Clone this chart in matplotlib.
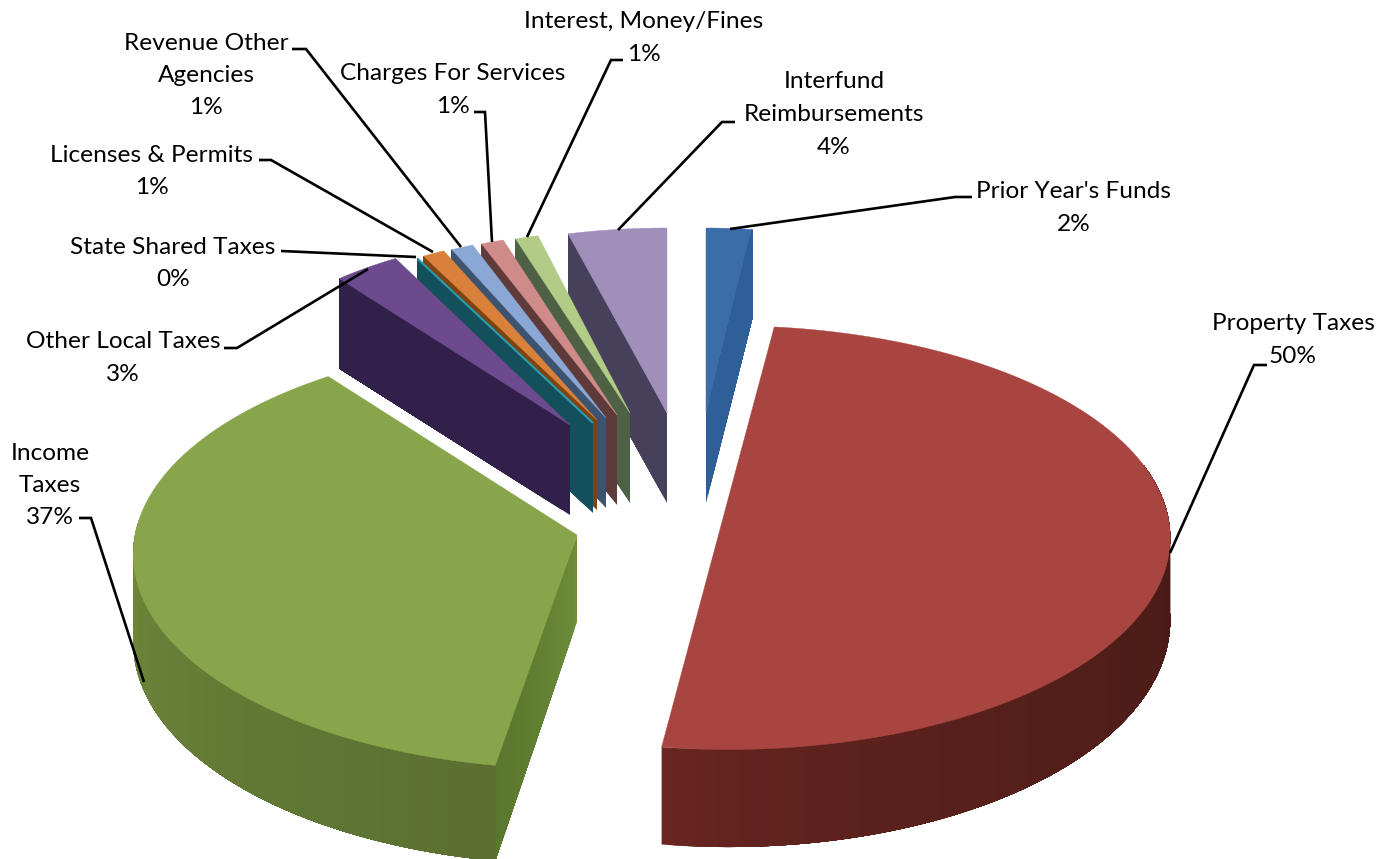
import numpy as np
import matplotlib
matplotlib.use("Agg")
import matplotlib.pyplot as plt
from matplotlib.colors import to_rgb

categories = ["Prior Year's Funds", "Property Taxes", "Income\nTaxes", "Other Local Taxes",
              "State Shared Taxes", "Licenses & Permits", "Revenue Other\nAgencies",
              "Charges For Services", "Interest, Money/Fines", "Interfund\nReimbursements"]
percents = [2, 50, 37, 3, 0, 1, 1, 1, 1, 4]

# apex of each slice in pixels, then screen radii, perspective, angle shift
apex = [(706, 413), (728, 499.5), (577, 535), (570, 425), (593, 423),
        (597, 420), (606, 418), (617, 415), (630, 413), (667, 413)]
radius_x = [368, 435, 442, 362, 365, 360, 362, 368, 370, 398]
radius_y = [185, 205, 213, 190, 188, 187, 186, 184, 183, 185]
persp = [0, 0.18, 0.09, 0, 0, 0, 0, 0, 0, 0]
shift = [0, 0, 2.5, 0, 0, 0, 0, 0, 0, 0]
depth = [90, 80, 87, 90, 90, 90, 90, 90, 90, 90]

top_colors = ["#3b6ea8", "#a94541", "#88a54c", "#6d4a8e", "#2a9bb0",
              "#d9813a", "#8aa7d5", "#cf8b88", "#b2cb86", "#a08fbb"]
wall_colors = ["#2f5f98", "#6a2622", "#76913f", "#31204a", "#14505c",
               "#7d4310", "#3d5470", "#5e3a3a", "#4f6145", "#47405a"]
wall_colors_far = ["#2f5f98", "#451a15", "#5b7031", "#31204a", "#14505c",
                   "#7d4310", "#3d5470", "#5e3a3a", "#4f6145", "#47405a"]

# label centre and first line height, then the leader polyline
label_pos = [(1074, 192), (1293, 324), (50, 453), (123, 342), (173, 247),
             (152, 155), (206, 43), (453, 74), (644, 22), (834, 82)]
leaders = [[(972, 197), (955, 197), (730, 229)],
           [(1267, 365), (1254, 365), (1170, 553)],
           [(79, 518), (91, 518), (144, 682)],
           [(224, 348), (237, 348), (368, 269)],
           [(281, 251), (416, 257)],
           [(259, 160), (271, 160), (433, 252)],
           [(292, 49), (306, 49), (461, 247)],
           [(474, 112), (485, 112), (492, 242)],
           [(623, 60), (611, 60), (527, 237)],
           [(735, 122), (722, 122), (618, 230)]]

fig = plt.figure(figsize=(13.87, 8.59), dpi=100)
ax = fig.add_axes([0, 0, 1, 1])
ax.set_xlim(0, 1387)
ax.set_ylim(859, 0)
ax.axis("off")


def project(i, theta):
    t = np.radians(np.asarray(theta, dtype=float) + shift[i])
    w = 1 + persp[i] * np.cos(t)
    x = apex[i][0] + radius_x[i] * np.sin(t) / w
    y = apex[i][1] - radius_y[i] * np.cos(t) / w
    return x, y, depth[i] / w


def mix(a, b, f):
    a, b = np.array(to_rgb(a)), np.array(to_rgb(b))
    return tuple(a + (b - a) * f)


def paint_strips(xt, yt, yb, c0, c1):
    # each strip runs on to the far end and the next paints over it, so no seams show
    n = len(xt)
    for j in range(n - 1):
        xs = np.concatenate([xt[j:], xb_rev(xt[j:])])
        ys = np.concatenate([yt[j:], yb[j:][::-1]])
        ax.fill(xs, ys, facecolor=mix(c0, c1, (j / (n - 2)) ** 0.6), edgecolor="none")


def xb_rev(x):
    return x[::-1]


def draw_arc_wall(i, t0, t1):
    th = np.linspace(t0, t1, 90)
    x, y, h = project(i, th)
    paint_strips(x, y, y + h, wall_colors[i], wall_colors_far[i])


def draw_cut_wall(i, theta, c0, c1):
    x, y, h = project(i, theta)
    f = np.linspace(0, 1, 30)
    xt = apex[i][0] + (x - apex[i][0]) * f
    yt = apex[i][1] + (y - apex[i][1]) * f
    paint_strips(xt, yt, yt + depth[i] + (h - depth[i]) * f, c0, c1)


def draw_top(i, t0, t1):
    th = np.linspace(t0, t1, 200)
    x, y, _ = project(i, th)
    pts = [apex[i]] + list(zip(x, y))
    # a zero sweep still shows as a thin bright edge
    lw = 1.5 if t0 == t1 else 0.3
    ax.fill([p[0] for p in pts], [p[1] for p in pts], facecolor=top_colors[i],
            edgecolor=top_colors[i], linewidth=lw)


# sweep angles come from the percentages, clockwise from twelve o'clock
edges = np.concatenate([[0], np.cumsum(percents)]) * 3.6

# narrow slices, right to left so each one overlaps its neighbour's wall
for i in [9, 8, 7, 6, 5, 4, 3]:
    draw_cut_wall(i, edges[i], wall_colors[i], wall_colors_far[i])
    draw_top(i, edges[i], edges[i + 1])

# prior year slice shows the wall on its far edge
draw_top(0, edges[0], edges[1])
draw_cut_wall(0, edges[1], wall_colors[0], wall_colors_far[0])

# income taxes
draw_cut_wall(2, edges[2], "#6f8f3b", "#5a772e")
draw_arc_wall(2, 272, edges[2])
draw_top(2, edges[2], edges[3])

# property taxes
draw_arc_wall(1, edges[2], 80)
draw_top(1, edges[1], edges[2])

for name, pct, (lx, ly), pts in zip(categories, percents, label_pos, leaders):
    ax.plot([p[0] for p in pts], [p[1] for p in pts], color="black", lw=1.9,
            solid_joinstyle="miter", solid_capstyle="butt")
    lines = name.split("\n") + ["%d%%" % pct]
    for n, line in enumerate(lines):
        ax.text(lx, ly + n * 32.5, line, ha="center", va="center", fontsize=17.6,
                family="Lato", color="black")

fig.savefig("out.png", dpi=100)
